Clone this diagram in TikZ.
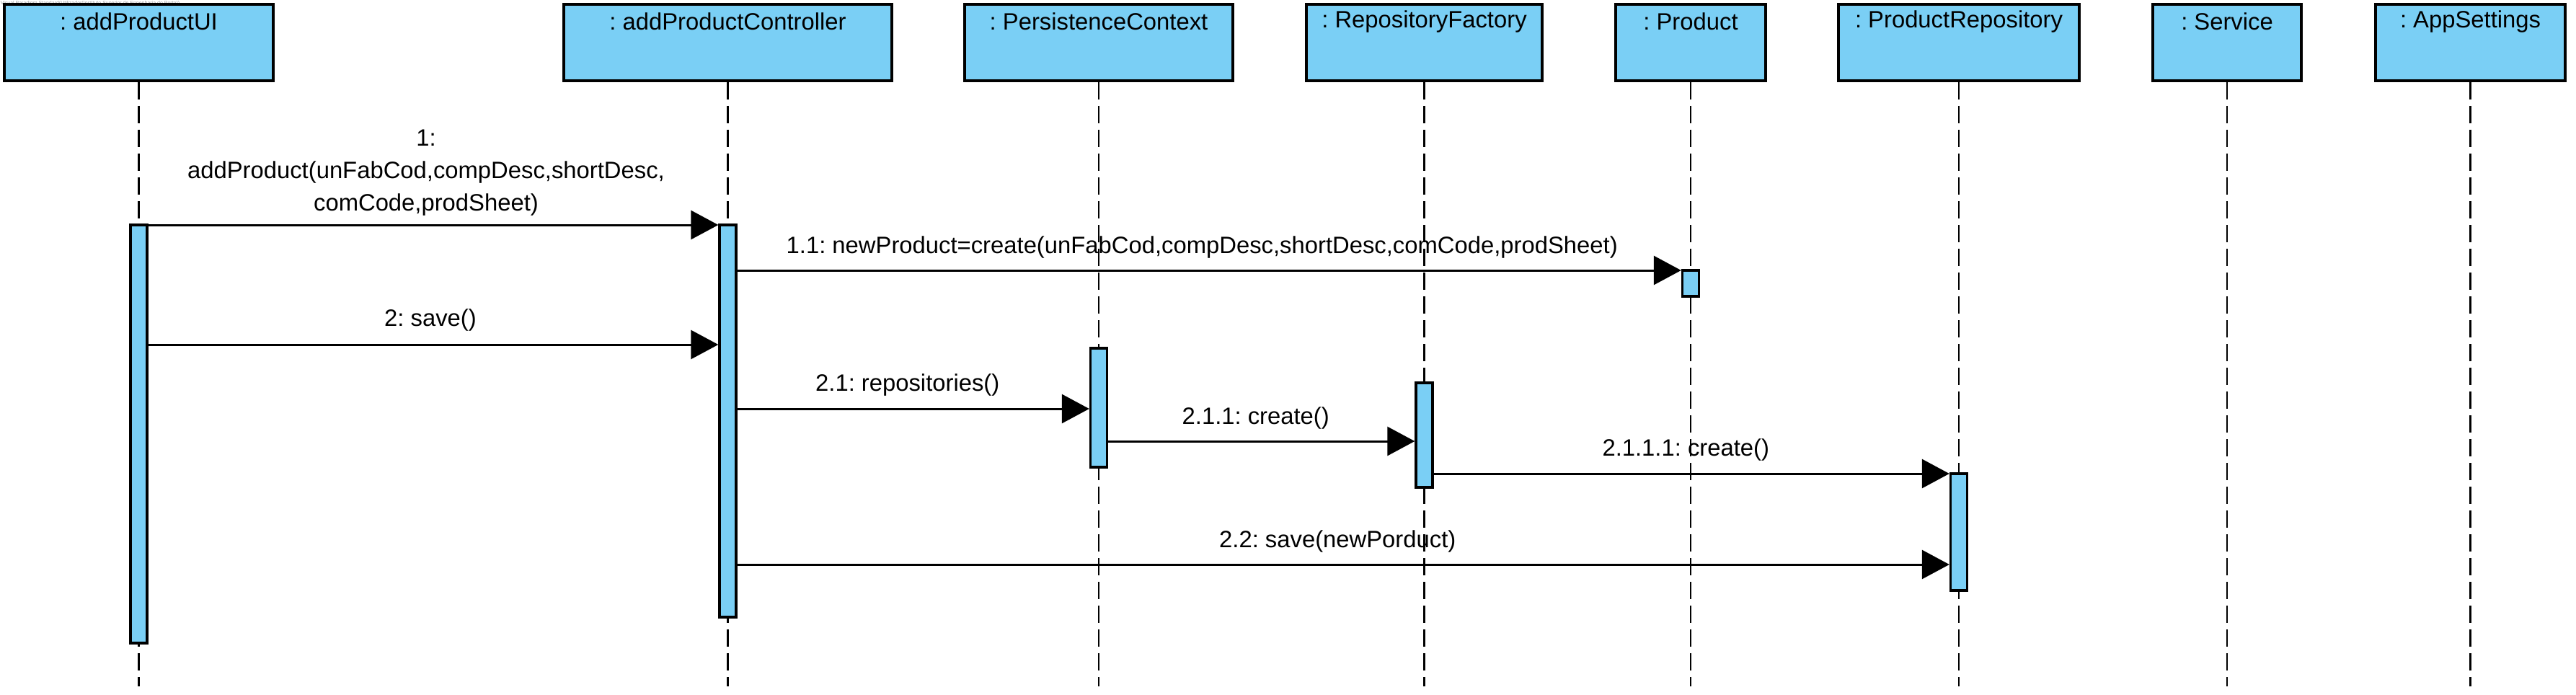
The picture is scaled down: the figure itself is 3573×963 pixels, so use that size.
\documentclass[tikz,border=0pt]{standalone}
\usepackage{fontspec}
\setmainfont{Liberation Sans}
\usetikzlibrary{arrows.meta}
\definecolor{vpblue}{RGB}{122,207,245}
\frenchspacing
\begin{document}
\begin{tikzpicture}[x=0.25pt,y=-0.25pt,
  hdrbox/.style={draw=black, line width=1pt, fill=vpblue, inner sep=0pt, minimum height={106*0.25pt}},
  hdrtxt/.style={font=\fontsize{8.2}{10}\selectfont\frenchspacing, inner sep=0pt, anchor=center},
  lifeline/.style={draw=black, line width=0.55pt, dash pattern=on 6pt off 2.25pt},
  actbox/.style={draw=black, line width=0.85pt, fill=vpblue, inner sep=0pt, minimum width={23*0.25pt}},
  msg/.style={draw=black, line width=0.75pt, -{Triangle[length=9.5pt,width=10pt]}},
  msglbl/.style={font=\fontsize{8.2}{11.25}\selectfont\frenchspacing, inner sep=0pt, align=center}
]
\useasboundingbox (0,0) rectangle (3573,963);

% watermark
\node[anchor=west, inner sep=0pt, text=black!40, font=\fontsize{1.75}{2}\selectfont] (wm) at (0,5) {Visual Paradigm Standard(Utilizador(Instituto Superior de Engenharia do Porto))};

% lifeline heads
\node[hdrbox, minimum width={373*0.25pt}] (ui)   at (192.5,59) {};
\node[hdrbox, minimum width={455*0.25pt}] (ctl)  at (1009.5,59) {};
\node[hdrbox, minimum width={372*0.25pt}] (pc)   at (1524,59) {};
\node[hdrbox, minimum width={327*0.25pt}] (rf)   at (1975.5,59) {};
\node[hdrbox, minimum width={208*0.25pt}] (prod) at (2345,59) {};
\node[hdrbox, minimum width={334*0.25pt}] (pr)   at (2717,59) {};
\node[hdrbox, minimum width={206*0.25pt}] (svc)  at (3089,59) {};
\node[hdrbox, minimum width={263*0.25pt}] (app)  at (3426.5,59) {};

\node[hdrtxt] (uiT)   at ([yshift=-6.5pt]ui.north)   {: addProductUI};
\node[hdrtxt] (ctlT)  at ([yshift=-6.5pt]ctl.north)  {: addProductController};
\node[hdrtxt] (pcT)   at ([yshift=-6.5pt]pc.north)   {: PersistenceContext};
\node[hdrtxt] (rfT)   at ([yshift=-6.5pt]rf.north)   {: RepositoryFactory};
\node[hdrtxt] (prodT) at ([yshift=-6.5pt]prod.north) {: Product};
\node[hdrtxt] (prT)   at ([yshift=-6.5pt]pr.north)   {: ProductRepository};
\node[hdrtxt] (svcT)  at ([yshift=-6.5pt]svc.north)  {: Service};
\node[hdrtxt] (appT)  at ([yshift=-6.5pt]app.north)  {: AppSettings};

% lifeline ends
\coordinate (uiE)   at (192.5,952);
\coordinate (ctlE)  at (1009.5,952);
\coordinate (pcE)   at (1524,952);
\coordinate (rfE)   at (1975.5,952);
\coordinate (prodE) at (2345,952);
\coordinate (prE)   at (2717,952);
\coordinate (svcE)  at (3089,952);
\coordinate (appE)  at (3426.5,952);

\draw[lifeline] (ui.south) -- (uiE);
\draw[lifeline] (ctl.south) -- (ctlE);
\draw[lifeline] (pc.south) -- (pcE);
\draw[lifeline] (rf.south) -- (rfE);
\draw[lifeline] (prod.south) -- (prodE);
\draw[lifeline] (pr.south) -- (prE);
\draw[lifeline] (svc.south) -- (svcE);
\draw[lifeline] (app.south) -- (appE);

% activations
\node[actbox, minimum height={580*0.25pt}] (uiA)   at (192.5,602) {};
\node[actbox, minimum height={544*0.25pt}] (ctlA)  at (1009.5,584) {};
\node[actbox, minimum height={36*0.25pt}]  (prodA) at (2345,393) {};
\node[actbox, minimum height={165*0.25pt}] (pcA)   at (1524,565.5) {};
\node[actbox, minimum height={145*0.25pt}] (rfA)   at (1975.5,603.5) {};
\node[actbox, minimum height={162*0.25pt}] (prA)   at (2717,738) {};

% messages
\draw[msg] (uiA.east |- 0,312) -- (ctlA.west |- 0,312)
  node[msglbl, midway, yshift=18pt, xshift=-2.5pt] (m1) {1:\\addProduct(unFabCod,compDesc,shortDesc,\\comCode,prodSheet)};
\draw[msg] (ctlA.east |- 0,375) -- (prodA.west |- 0,375)
  node[msglbl, midway, yshift=8pt, xshift=-2.5pt] (m11) {1.1: newProduct=create(unFabCod,compDesc,shortDesc,comCode,prodSheet)};
\draw[msg] (uiA.east |- 0,478) -- (ctlA.west |- 0,478)
  node[msglbl, midway, yshift=8.5pt, xshift=-1pt] (m2) {2: save()};
\draw[msg] (ctlA.east |- 0,567) -- (pcA.west |- 0,567)
  node[msglbl, midway, yshift=8.25pt, xshift=-2pt] (m21) {2.1: repositories()};
\draw[msg] (pcA.east |- 0,612) -- (rfA.west |- 0,612)
  node[msglbl, midway, yshift=8pt, xshift=-2pt] (m211) {2.1.1: create()};
\draw[msg] (rfA.east |- 0,657) -- (prA.west |- 0,657)
  node[msglbl, midway, yshift=8.25pt, xshift=-2pt] (m2111) {2.1.1.1: create()};
\draw[msg] (ctlA.east |- 0,783) -- (prA.west |- 0,783)
  node[msglbl, midway, yshift=8pt, xshift=-2pt] (m22) {2.2: save(newPorduct)};
\end{tikzpicture}
\end{document}
